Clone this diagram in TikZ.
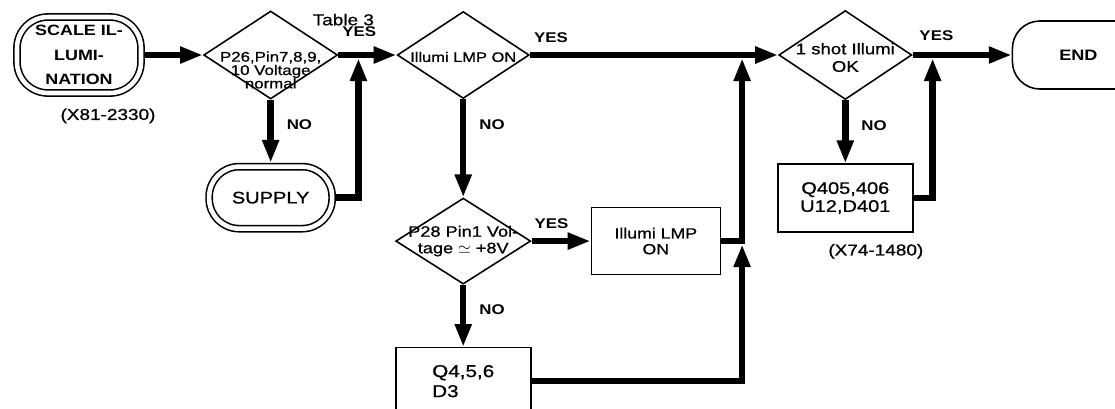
\documentclass[tikz,border=0pt]{standalone}
\usepackage{fontspec}
\setmainfont{Liberation Sans}[FakeStretch=1.2, UprightFeatures={FakeBold=0.8}]
\usetikzlibrary{positioning}
\usetikzlibrary{arrows.meta}
\usetikzlibrary{shapes.geometric}

\begin{document}
\begin{tikzpicture}[
    decision/.style={diamond, draw, line width=0.9pt, inner sep=0pt},
    dtext/.style={align=center, inner sep=0pt},
    block/.style={rectangle, draw, line width=0.9pt, align=center},
    terminal/.style={rectangle, draw, line width=0.9pt, align=center},
    doubleterm/.style={terminal, double, double distance=2.6pt, outer sep=2.2pt},
    flow/.style={line width=3.7pt, -{Triangle[length=13pt,width=9pt]}},
    answer/.style={font=\bfseries\fontsize{8}{9.6}\selectfont},
    note/.style={font=\fontsize{9}{11}\selectfont}
]
\useasboundingbox (0,0) rectangle (22.3,-8.16);

% Start
\node[doubleterm,
    minimum width=2.48cm,
    minimum height=1.52cm,
    rounded corners=0.62cm,
    font=\bfseries\fontsize{8.5}{14}\selectfont
] (start) at (1.58,-1.10) {SCALE IL-\\LUMI-\\NATION};
\node[note] (x81) at ([xshift=0.58cm,yshift=-0.38cm]start.south) {(X81-2330)};

% Voltage check
\node[decision,
    minimum width=2.68cm,
    minimum height=1.76cm,
    right=1.16cm of start
] (volt) {};
\node[dtext, font=\fontsize{8}{7.6}\selectfont]
    (volttxt) at ([yshift=-0.3cm]volt.center) {P26,Pin7,8,9,\\10 Voltage\\normal};

% Supply
\node[doubleterm,
    minimum width=2.46cm,
    minimum height=1.24cm,
    rounded corners=0.6cm,
    font=\fontsize{9.5}{11}\selectfont,
    below=1.26cm of volt
] (supply) {SUPPLY};

% Lamp check
\node[decision,
    minimum width=2.64cm,
    minimum height=1.74cm,
    right=1.16cm of volt
] (lamp) {};
\node[dtext, font=\fontsize{7.8}{9}\selectfont]
    (lamptxt) at ([yshift=-0.04cm]lamp.center) {Illumi LMP ON};

% Pin check
\node[decision,
    minimum width=2.70cm,
    minimum height=1.72cm,
    below=1.96cm of lamp
] (pin) {};
\node[dtext, font=\fontsize{8.6}{9.4}\selectfont]
    (pintxt) at (pin.center) {P28 Pin1 Vol-\\tage $\simeq$ +8V};

\node[block,
    minimum width=2.58cm,
    minimum height=1.34cm,
    font=\fontsize{8.4}{9}\selectfont,
    right=1.18cm of pin
] (lmpon) {Illumi LMP\\ON};

\node[block,
    minimum width=2.70cm,
    minimum height=1.34cm,
    align=left,
    font=\fontsize{9.8}{11.4}\selectfont,
    below=1.24cm of pin
] (qfour) {Q4,5,6\\D3};

% One shot check
\node[decision,
    minimum width=2.66cm,
    minimum height=1.78cm,
    right=4.96cm of lamp
] (shot) {};
\node[dtext, font=\fontsize{8.8}{10}\selectfont]
    (shottxt) at ([yshift=-0.05cm]shot.center) {1 shot Illumi\\OK};

\node[block,
    minimum width=2.70cm,
    minimum height=1.36cm,
    font=\fontsize{9.5}{10.2}\selectfont,
    below=1.26cm of shot
] (qfour05) {Q405,406\\U12,D401};
\node[note] (x74) at ([xshift=0.61cm,yshift=-0.37cm]qfour05.south) {(X74-1480)};

% End
\node[terminal,
    minimum width=2.64cm,
    minimum height=1.36cm,
    rounded corners=0.55cm,
    font=\bfseries\fontsize{8.6}{10}\selectfont,
    right=1.98cm of shot
] (finish) {END};

% Arrows with text label
\draw[flow] (start.east) -- (volt.west);
\draw[flow] (volt.east) -- (lamp.west)
    node[pos=0.36,above=5pt,answer](yesvolt){YES};
\node[note] (tab3) at ([xshift=-0.32cm,yshift=0.25cm]yesvolt) {Table 3};
\draw[flow] (volt.south) -- (supply.north)
    node[pos=0.4,right=4pt,answer](novolt){NO};
\draw[flow, shorten >=1.85pt] (supply.east) -| ([xshift=0.4cm]volt.east);

\draw[flow] (lamp.east) -- (shot.west)
    node[pos=0.085,above=2pt,answer](yeslamp){YES};
\draw[flow] (lamp.south) -- (pin.north)
    node[pos=0.26,right=4pt,answer](nolamp){NO};

\draw[flow] (pin.east) -- (lmpon.west)
    node[pos=0.34,above=2pt,answer](yespin){YES};
\draw[flow] (pin.south) -- (qfour.north)
    node[pos=0.4,right=4pt,answer](nopin){NO};

\coordinate (rise) at ([xshift=0.42cm]lmpon.east);
\draw[flow, shorten >=1.85pt] (qfour.east) -| (rise);
\draw[flow, shorten >=1.85pt] (lmpon.east) -| (rise |- lamp.east);

\draw[flow] (shot.east) -- (finish.west)
    node[pos=0.24,above=3pt,answer](yesshot){YES};
\draw[flow] (shot.south) -- (qfour05.north)
    node[pos=0.4,right=4pt,answer](noshot){NO};
\draw[flow, shorten >=1.85pt] (qfour05.east) -| ([xshift=0.4cm]shot.east);

\end{tikzpicture}
\end{document}
